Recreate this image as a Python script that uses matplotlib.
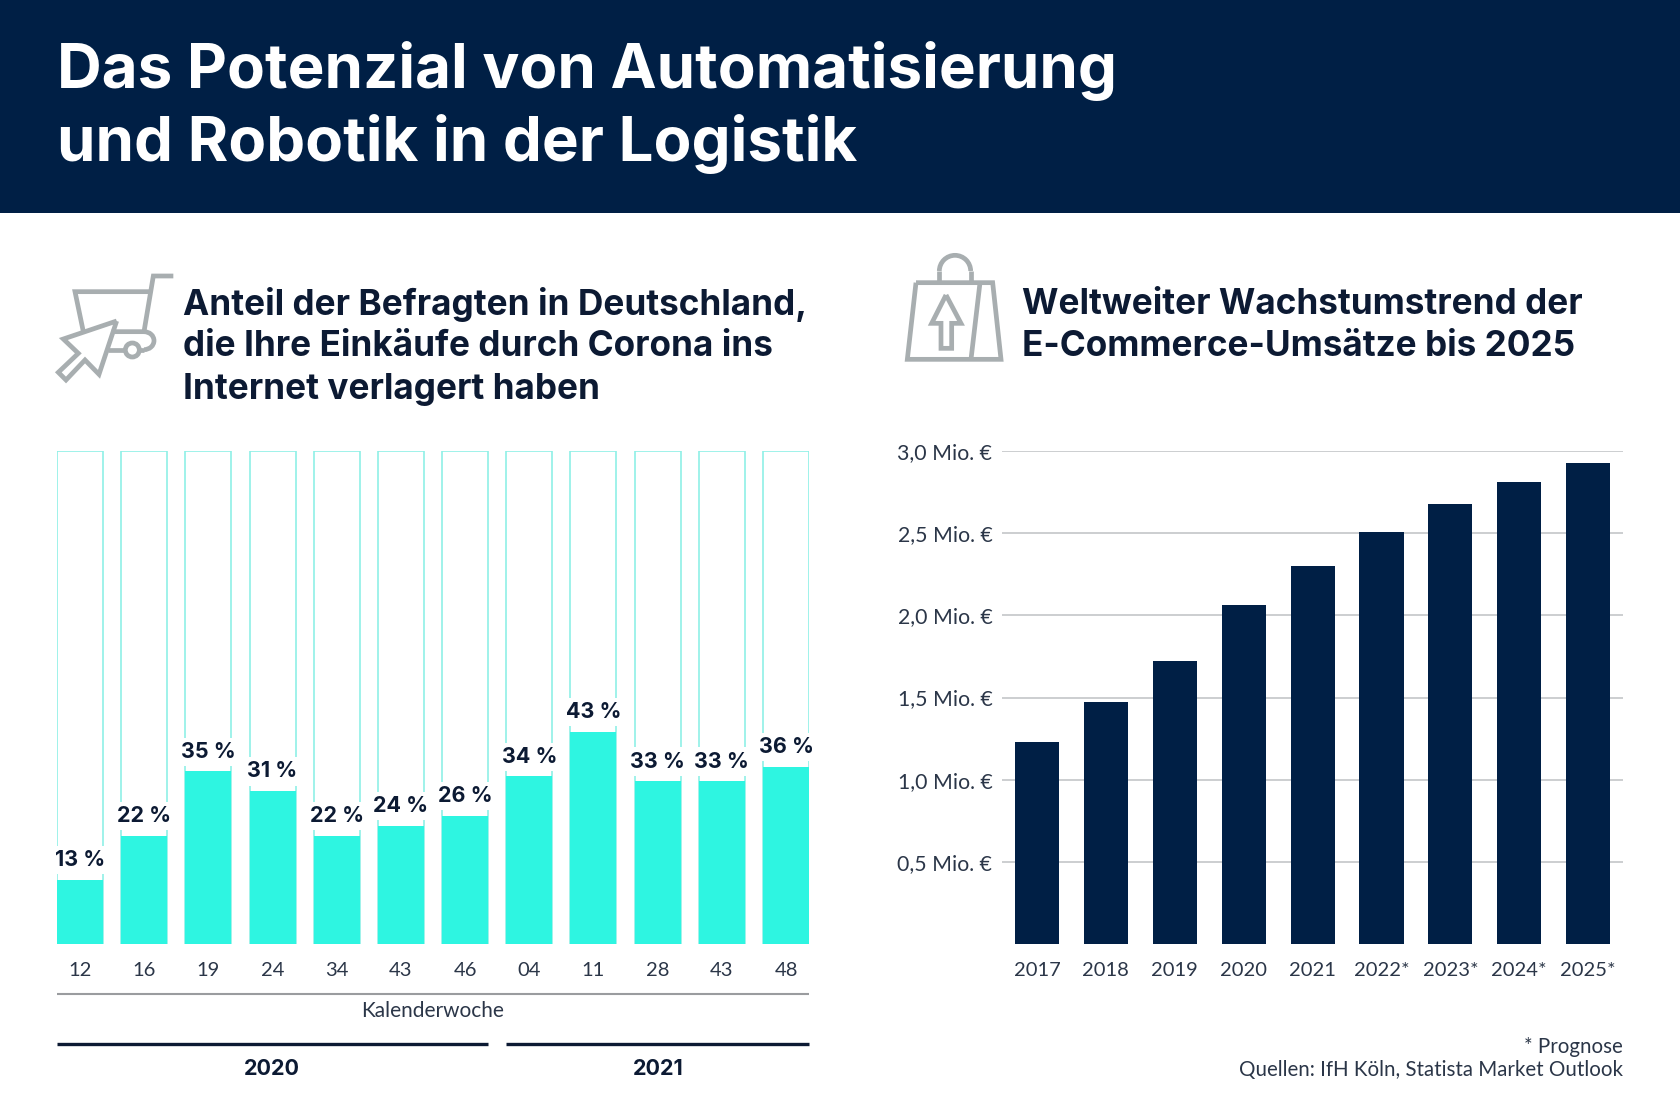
import matplotlib
matplotlib.use('Agg')
import matplotlib.pyplot as plt
from matplotlib.patches import Rectangle, Circle, Arc

W, H = 1680, 1120
NAVY = '#001f45'
CYAN = '#2ef5e1'
CYAN_LINE = '#8ff0e6'
GREY = '#a8aeb0'
TEXT = '#0c1a33'
SOFT_TEXT = '#2b3648'
HEAD_FONT = ['Inter', 'DejaVu Sans']

TITLE_LINES = ['Das Potenzial von Automatisierung', 'und Robotik in der Logistik']
LEFT_HEAD = ['Anteil der Befragten in Deutschland,', 'die Ihre Einkäufe durch Corona ins', 'Internet verlagert haben']
RIGHT_HEAD = ['Weltweiter Wachstumstrend der', 'E-Commerce-Umsätze bis 2025']

weeks = ['12', '16', '19', '24', '34', '43', '46', '04', '11', '28', '43', '48']
shares = [13, 22, 35, 31, 22, 24, 26, 34, 43, 33, 33, 36]

years = ['2017', '2018', '2019', '2020', '2021', '2022*', '2023*', '2024*', '2025*']
sales = [1.23, 1.47, 1.72, 2.06, 2.30, 2.51, 2.68, 2.81, 2.93]
y_ticks = [0.5, 1.0, 1.5, 2.0, 2.5, 3.0]
y_labels = ['0,5 Mio. €', '1,0 Mio. €', '1,5 Mio. €', '2,0 Mio. €', '2,5 Mio. €', '3,0 Mio. €']

plt.rcParams['font.family'] = ['Lato', 'DejaVu Sans']


def axes_px(fig, x0, y0, x1, y1):
    # pixel box, y from the top like in the picture
    return fig.add_axes([x0 / W, 1 - y1 / H, (x1 - x0) / W, (y1 - y0) / H])


def stroke(ax, pts, closed=False):
    xs = [p[0] for p in pts]
    ys = [p[1] for p in pts]
    if closed:
        xs.append(xs[0])
        ys.append(ys[0])
    ax.plot(xs, ys, color=GREY, lw=3.4, solid_joinstyle='miter', solid_capstyle='butt')


def draw_cart(ax):
    def p(zx, zy):
        return (40 + zx / 3, 250 + zy / 3)
    stroke(ax, [p(400, 78), p(340, 78), p(312, 245), p(215, 245)])
    stroke(ax, [p(332, 125), p(105, 125), p(130, 245)])
    ax.add_patch(Arc(p(312, 272), 20, 18, theta1=-90, theta2=90, color=GREY, lw=3.4))
    stroke(ax, [p(312, 300), p(298, 300)])
    stroke(ax, [p(255, 300), p(205, 300)])
    ax.add_patch(Circle(p(277, 300), 7, fc='white', ec=GREY, lw=3.4))
    stroke(ax, [p(230, 213), p(70, 267), p(115, 310), p(55, 367), p(78, 390), p(135, 330), p(177, 373)], closed=True)


def draw_bag(ax):
    def p(zx, zy):
        return (890 + zx / 3, 245 + zy / 3)
    stroke(ax, [p(78, 113), p(308, 113), p(333, 343), p(52, 343)], closed=True)
    stroke(ax, [p(270, 113), p(243, 343)])
    stroke(ax, [p(148, 113), p(148, 78)])
    stroke(ax, [p(242, 113), p(242, 78)])
    # y axis points down here, so the top half of the handle is 180..360
    ax.add_patch(Arc(p(195, 78), 94 / 3, 94 / 3, theta1=180, theta2=360, color=GREY, lw=3.4))
    stroke(ax, [p(168, 150), p(213, 235), p(185, 235), p(185, 310), p(153, 310), p(153, 235), p(125, 235)], closed=True)


fig = plt.figure(figsize=(W / 100, H / 100), dpi=100, facecolor='white')

# overlay in pixels for header, icons and text
bg = fig.add_axes([0, 0, 1, 1])
bg.set_xlim(0, W)
bg.set_ylim(H, 0)
bg.axis('off')
bg.add_patch(Rectangle((0, 0), W, 213, fc=NAVY, ec='none'))
for y, line in zip([71, 144], TITLE_LINES):
    bg.text(57, y, line, color='white', fontsize=44.5, fontweight='bold', family=HEAD_FONT, va='center')
for y, line in zip([305, 347, 389], LEFT_HEAD):
    bg.text(183, y, line, color=TEXT, fontsize=25.3, fontweight='bold', family=HEAD_FONT, va='center')
for y, line in zip([305, 347], RIGHT_HEAD):
    bg.text(1022, y, line, color=TEXT, fontsize=25.3, fontweight='bold', family=HEAD_FONT, va='center')
draw_cart(bg)
draw_bag(bg)

bg.plot([57, 809], [994, 994], color='#9a9c9f', lw=1.5, solid_capstyle='butt')
bg.text(433, 1011, 'Kalenderwoche', color=SOFT_TEXT, fontsize=15, ha='center', va='center')
bg.plot([57, 488], [1044, 1044], color=TEXT, lw=2.4, solid_capstyle='butt')
bg.plot([506, 809], [1044, 1044], color=TEXT, lw=2.4, solid_capstyle='butt')
bg.text(272, 1069, '2020', color=TEXT, fontsize=15.5, fontweight='bold', family=HEAD_FONT, ha='center', va='center')
bg.text(658, 1069, '2021', color=TEXT, fontsize=15.5, fontweight='bold', family=HEAD_FONT, ha='center', va='center')
bg.text(1623, 1047, '* Prognose', color=SOFT_TEXT, fontsize=14.8, ha='right', va='center')
bg.text(1623, 1070, 'Quellen: IfH Köln, Statista Market Outlook', color=SOFT_TEXT, fontsize=14.8, ha='right', va='center')

# left chart
ax1 = axes_px(fig, 57, 451, 809, 944)
ax1.patch.set_alpha(0)
pos1 = list(range(len(weeks)))
ax1.bar(pos1, [100] * len(weeks), width=0.717, fc='none', ec=CYAN_LINE, lw=1.2)
ax1.bar(pos1, shares, width=0.717, color=CYAN, zorder=2)
for x, v in zip(pos1, shares):
    ax1.text(x, v + 4.0, f'{v} %', color=TEXT, fontsize=15.5, fontweight='bold', family=HEAD_FONT, ha='center', va='center',
             bbox=dict(fc='white', ec='none', pad=3), zorder=3)
ax1.set_xlim(-0.358, 11.358)
ax1.set_ylim(0, 100)
ax1.set_yticks([])
ax1.set_xticks(pos1, weeks)
ax1.tick_params(axis='x', length=0, pad=13, labelsize=14.5, labelcolor=SOFT_TEXT)
for s in ax1.spines.values():
    s.set_visible(False)

# right chart
ax2 = axes_px(fig, 1002, 451, 1623, 944)
ax2.patch.set_alpha(0)
pos2 = list(range(len(years)))
ax2.bar(pos2, sales, width=0.64, color=NAVY, zorder=3)
ax2.set_xlim(-0.508, 8.505)
ax2.set_ylim(0, 3)
ax2.set_yticks(y_ticks, y_labels)
ax2.set_xticks(pos2, years)
ax2.grid(axis='y', color='#c4c6c8', lw=1.2, zorder=0)
ax2.tick_params(axis='y', length=0, pad=7, labelsize=15.3, labelcolor=SOFT_TEXT)
ax2.tick_params(axis='x', length=0, pad=13, labelsize=14.5, labelcolor=SOFT_TEXT)
for s in ax2.spines.values():
    s.set_visible(False)

fig.savefig('out.png', dpi=100)
